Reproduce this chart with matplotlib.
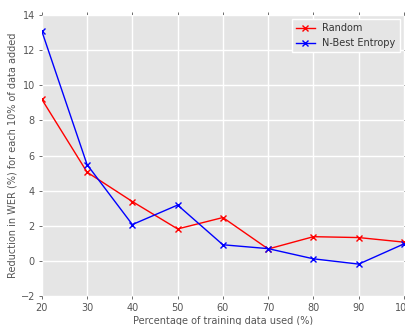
import matplotlib
matplotlib.use('Agg')
import matplotlib.pyplot as plt

pct = [20, 30, 40, 50, 60, 70, 80, 90, 100]
random_red = [9.2, 5.05, 3.38, 1.82, 2.47, 0.68, 1.38, 1.33, 1.07]
nbest_ent = [13.08, 5.48, 2.07, 3.18, 0.92, 0.7, 0.12, -0.18, 0.97]

plt.rcParams['font.family'] = 'DejaVu Sans'
fig = plt.figure(figsize=(4.06, 3.25), dpi=100)
ax = fig.add_axes([0.103, 0.089, 0.892, 0.865])
ax.set_facecolor('#E5E5E5')
for s in ax.spines.values():
    s.set_visible(False)
ax.grid(True, color='white', linewidth=1)
ax.set_axisbelow(True)

ax.plot(pct, random_red, color='red', marker='x', markersize=5, linewidth=1, label='Random')
ax.plot(pct, nbest_ent, color='blue', marker='x', markersize=5, linewidth=1, label='N-Best Entropy')

ax.set_xlim(20, 100)
ax.set_ylim(-2, 14)
ax.set_xticks(range(20, 101, 10))
ax.set_yticks(range(-2, 15, 2))
ax.tick_params(colors='#555555', labelsize=7, length=2.5, width=0.6,
               top=True, right=True, direction='out', pad=2.5)
ax.set_xlabel('Percentage of training data used (%)', fontsize=7, color='#555555', labelpad=2)
ax.set_ylabel('Reduction in WER (%) for each 10% of data added', fontsize=7, color='#555555', labelpad=2)

leg = ax.legend(loc='upper right', fontsize=7, fancybox=False, framealpha=1,
                borderaxespad=0.4, handlelength=1.9, borderpad=0.45)
leg.get_frame().set_facecolor('#E5E5E5')
leg.get_frame().set_edgecolor('white')
for t in leg.get_texts():
    t.set_color('#333333')

fig.savefig('out.png', dpi=100)
